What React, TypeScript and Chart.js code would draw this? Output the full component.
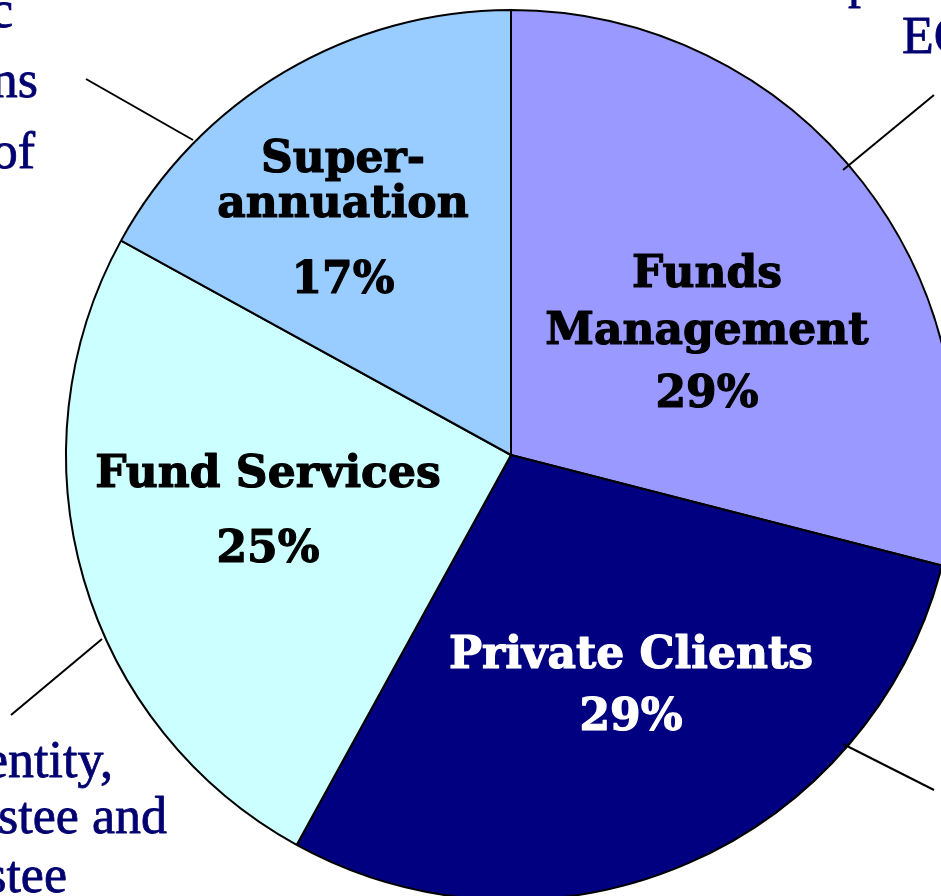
import React, { useEffect, useRef } from "react";
import { Chart, registerables } from "chart.js";

Chart.register(...registerables);

// ---- data ----
const categories = ["Funds Management", "Private Clients", "Fund Services", "Superannuation"];
const shares = [29, 29, 25, 17];
const labelLines = [["Funds", "Management"], ["Private Clients"], ["Fund Services"], ["Super-", "annuation"]];
const sliceColors = ["#9999FF", "#000080", "#CCFFFF", "#99CCFF"];
const labelColors = ["#000000", "#FFFFFF", "#000000", "#000000"];

// label placement relative to pie centre: x offset and baseline offsets (text lines..., percent)
const labelDx = [196, 120, -243, -168];
const labelBaselines = [
  [-168, -111, -48],
  [213, 275],
  [32, 107],
  [-283, -238, -162],
];

// outer (cropped) annotation fragments, positions relative to pie centre
const outerTexts = [
  { text: "c", dx: -498, dy: -428, align: "right" },
  { text: "ns", dx: -473, dy: -358, align: "right" },
  { text: "of", dx: -476, dy: -287, align: "right" },
  { text: "p", dx: 337, dy: -458, align: "left" },
  { text: "EC", dx: 391, dy: -402, align: "left" },
  { text: "entity,", dx: -398, dy: 322, align: "right" },
  { text: "stee and", dx: -344, dy: 378, align: "right" },
  { text: "stee", dx: -444, dy: 437, align: "right" },
];

// leader lines: [dx1, dy1, dx2, dy2] relative to pie centre
const leaderLines = [
  [-425, -376, -318, -315],
  [332, -285, 423, -360],
  [-409, 184, -500, 260],
  [332, 289, 423, 335],
];

const annotationPlugin = {
  id: "annotations",
  afterDatasetsDraw(chart: any) {
    const ctx = chart.ctx;
    const meta = chart.getDatasetMeta(0);
    const arc0 = meta.data[0];
    const cx = arc0.x;
    const cy = arc0.y;
    ctx.save();
    // leader lines
    ctx.strokeStyle = "#000000";
    ctx.lineWidth = 2;
    leaderLines.forEach(([x1, y1, x2, y2]) => {
      ctx.beginPath();
      ctx.moveTo(cx + x1, cy + y1);
      ctx.lineTo(cx + x2, cy + y2);
      ctx.stroke();
    });
    // inner labels
    ctx.font = "bold 44px 'DejaVu Serif'";
    ctx.textAlign = "center";
    ctx.textBaseline = "alphabetic";
    ctx.lineJoin = "round";
    categories.forEach((_, i) => {
      const lines = [...labelLines[i], shares[i] + "%"];
      ctx.fillStyle = labelColors[i];
      ctx.strokeStyle = labelColors[i];
      ctx.lineWidth = 1.2;
      lines.forEach((t, j) => {
        ctx.fillText(t, cx + labelDx[i], cy + labelBaselines[i][j]);
        ctx.strokeText(t, cx + labelDx[i], cy + labelBaselines[i][j]);
      });
    });
    // outer text fragments
    ctx.font = "52px 'Liberation Serif'";
    ctx.fillStyle = "#000070";
    ctx.strokeStyle = "#000070";
    ctx.lineWidth = 0.8;
    outerTexts.forEach((o) => {
      ctx.textAlign = o.align as CanvasTextAlign;
      ctx.fillText(o.text, cx + o.dx, cy + o.dy);
      ctx.strokeText(o.text, cx + o.dx, cy + o.dy);
    });
    ctx.restore();
  },
};

export default function App() {
  const ref = useRef<HTMLCanvasElement | null>(null);
  useEffect(() => {
    if (!ref.current) return;
    const chart = new Chart(ref.current, {
      type: "pie",
      data: {
        labels: categories,
        datasets: [
          {
            data: shares,
            backgroundColor: sliceColors,
            borderColor: "#000000",
            borderWidth: 2,
            radius: 445,
            clip: false,
          } as any,
        ],
      },
      options: {
        responsive: false,
        maintainAspectRatio: false,
        animation: false,
        layout: { padding: { left: 81, top: 14, right: 0, bottom: 0 } },
        plugins: {
          legend: { display: false },
          tooltip: { enabled: false },
        },
      },
      plugins: [annotationPlugin],
    });
    return () => chart.destroy();
  }, []);
  return (
    <div style={{ position: "absolute", left: 0, top: 0, width: 941, height: 896, background: "#fff" }}>
      <canvas ref={ref} width={941} height={896} style={{ display: "block" }} />
    </div>
  );
}
